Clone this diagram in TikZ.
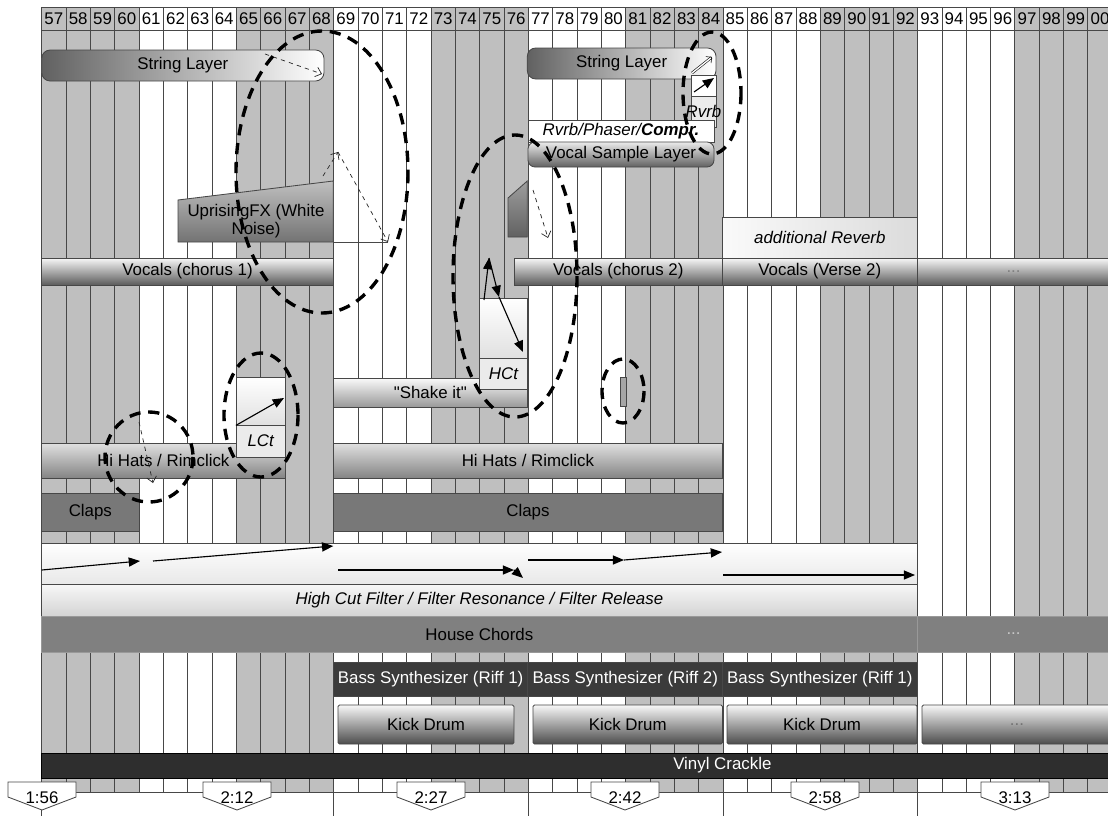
\documentclass[tikz,border=0pt]{standalone}
\usepackage{fontspec}
\setmainfont{Liberation Sans}
\usetikzlibrary{arrows.meta}
\tikzset{
  span/.style n args={4}{at={({(#1+#3)/2},{(#2+#4)/2})}, minimum width={(#3-#1)*0.025cm}, minimum height={(#4-#2)*0.025cm}},
  colline/.style={draw=black!72, line width=0.6pt},
  hdcell/.style={draw=black!72, line width=0.6pt, inner sep=0pt, font=\fontsize{12}{14}\selectfont},
  bar/.style={draw=black!72, line width=0.6pt, inner sep=0pt, font=\fontsize{12}{14}\selectfont},
  strbar/.style={bar, rounded corners=6pt, left color=black!62, right color=white},
  vocbar/.style={bar, top color=black!3, bottom color=black!64},
  vsbar/.style={bar, rounded corners=5pt, top color=black!8, bottom color=black!62},
  hatbar/.style={bar, top color=black!12, bottom color=black!48},
  shakebar/.style={bar, top color=black!2, bottom color=black!40},
  clapbar/.style={bar, fill=black!53},
  litebox/.style={bar, top color=white, bottom color=black!12},
  tagbox/.style={bar, fill=black!8, font=\fontsize{12}{14}\selectfont\itshape},
  filtbar/.style={bar, top color=black!3, bottom color=black!17, font=\fontsize{12}{14}\selectfont\itshape},
  chordbar/.style={bar, draw=black!40, fill=black!50},
  bassbar/.style={bar, fill=black!77, text=white},
  kickbar/.style={bar, rounded corners=1pt, top color=black!3, bottom color=black!70},
  crackbar/.style={bar, draw=black, fill=black!82, text=white},
  fxshape/.style={draw=black!72, line width=0.6pt},
  focus/.style={draw=black, line width=2.4pt, dash pattern=on 8pt off 5.5pt},
  hint/.style={draw=black!85, line width=0.5pt, dashed, -{Straight Barb[length=4pt,width=7pt]}},
  flow/.style={draw=black, line width=0.8pt, -{Triangle[length=8pt,width=6.5pt]}},
  tmark/.style={draw=black!72, fill=white, line width=0.6pt},
}
\begin{document}
\begin{tikzpicture}[x=0.025cm, y=-0.025cm]
  \useasboundingbox (0,0) rectangle (1108,816);
  \fill[white] (0,0) rectangle (1108,816);

  \foreach \k in {57,...,100} {
    \pgfmathsetmacro\xl{41.7+(\k-57)*24.33}
    \pgfmathsetmacro\xr{\xl+24.33}
    \pgfmathtruncatemacro\shd{mod(int((\k-57)/4),2)==0 ? 25 : 0}
    \fill[black!\shd] (\xl,30) rectangle (\xr,792);
    \draw[colline] (\xl,30) -- (\xl,792);
    \node[hdcell, fill=black!\shd, span={\xl}{7}{\xr}{30}] (h\k) {\ifnum\k=100 00\else\k\fi};
  }
  \draw[colline] (41.7,792) -- (1108,792);
  \foreach \k in {57,69,77,85,93}
    \draw[colline] ({41.7+(\k-57)*24.33},792) -- ++(0,24);

  \node[strbar, span={41.7}{50}{324}{81}] (str1) {String Layer};
  \path[fxshape, top color=black!25, bottom color=black!55] (178,200) -- (333.3,181) -- (333.3,242) -- (178,242) -- cycle;
  \node[align=center, font=\fontsize{12}{12.5}\selectfont] (upfx) at (256,221) {UprisingFX (White\\Noise)};
  \coordinate (upend) at (388,242);
  \draw[fxshape] (333.3,242) -- (upend);

  \node[vocbar, span={41.7}{258}{333.3}{285}] (voc1) {Vocals (chorus 1)};
  \node[vocbar, span={514}{258}{722.5}{285}] (voc2) {Vocals (chorus 2)};
  \node[vocbar, span={722.5}{258}{917.1}{285}] (voc3) {Vocals (Verse 2)};
  \node[vocbar, text=black!50, span={917.1}{258}{1110}{285}] (voc4) {...};
  \node[bar, left color=black!2, right color=black!14, font=\fontsize{12}{14}\selectfont\itshape, span={722.5}{217}{917.1}{258}] (addrev) {additional Reverb};

  \node[strbar, span={527.3}{48}{716}{79}] (str2) {String Layer};
  \node[bar, fill=white, span={691}{75}{716}{96}] (rvbup) {};
  \node[tagbox, span={691}{96}{716}{127}, label={[font=\fontsize{12}{14}\selectfont\itshape]center:Rvrb}] (rvb) {};
  \node[bar, fill=white, font=\fontsize{12}{14}\selectfont\itshape, span={528}{120}{714}{142}] (fxchain) {Rvrb/Phaser/\textbf{Compr.}};
  \node[vsbar, span={528}{142}{714}{167}] (vsl) {Vocal Sample Layer};

  \path[fxshape, top color=black!38, bottom color=black!62] (508,198) -- (527.3,181) -- (527.3,237) -- (508,237) -- cycle;

  \node[shakebar, span={333.3}{378}{527.3}{407}] (shake) {\textquotedbl Shake it\textquotedbl};
  \node[litebox, span={479.6}{298}{527.3}{358}] (hctup) {};
  \node[tagbox, span={479.6}{358}{527.3}{389}] (hct) {HCt};
  \node[bar, fill=black!35, span={620}{377}{626}{406}] (blip) {};

  \node[litebox, span={236.3}{377}{285}{425}] (lctup) {};
  \node[hatbar, span={41.7}{443}{285}{478}] (hat1) {Hi Hats / Rimclick};
  \node[hatbar, span={333.3}{443}{722.5}{478}] (hat2) {Hi Hats / Rimclick};
  \node[tagbox, span={236.3}{425}{285}{457}] (lct) {LCt};

  \node[clapbar, span={41.7}{493}{139}{531}] (clap1) {Claps};
  \node[clapbar, span={333.3}{493}{722.5}{531}] (clap2) {Claps};

  \node[bar, top color=white, bottom color=black!9, span={41.7}{543}{917.1}{584}] (sweep) {};
  \node[filtbar, span={41.7}{584}{917.1}{616}] (filt) {High Cut Filter / Filter Resonance / Filter Release};
  \node[chordbar, span={41.7}{616}{917.1}{652}] (chords) {House Chords};
  \node[chordbar, text=black!22, span={917.1}{616}{1110}{652}] (chords2) {...};

  \node[bassbar, span={333.3}{662}{527.9}{696}] (bass1) {Bass Synthesizer (Riff 1)};
  \node[bassbar, span={527.9}{662}{722.5}{696}] (bass2) {Bass Synthesizer (Riff 2)};
  \node[bassbar, span={722.5}{662}{917.1}{696}] (bass3) {Bass Synthesizer (Riff 1)};

  \node[kickbar, span={338}{705}{514}{744}] (kick1) {Kick Drum};
  \node[kickbar, span={533}{705}{722.5}{744}] (kick2) {Kick Drum};
  \node[kickbar, span={727}{705}{917.1}{744}] (kick3) {Kick Drum};
  \node[kickbar, text=black!55, span={922}{705}{1112}{744}] (kick4) {...};

  \node[crackbar, span={41.7}{753}{1403}{778}] (vinyl) {Vinyl Crackle};

  \coordinate (s1a) at (265,54);
  \coordinate (s1b) at (322,74);
  \draw[hint] (s1a) -- (s1b);
  \coordinate (ux1) at (323,176);
  \coordinate (ux2) at (338,152);
  \draw[hint] (ux1) -- (ux2);
  \draw[hint] (ux2) -- (upend);
  \coordinate (pa1) at (533,190);
  \coordinate (pa2) at (548,238);
  \draw[hint] (pa1) -- (pa2);
  \coordinate (hh1) at (139,422);
  \coordinate (hh2) at (153,483);
  \draw[hint] (hh1) -- (hh2);
  \coordinate (s2a) at (692,73);
  \coordinate (s2b) at (712,57);
  \draw[line width=0.4pt, double distance=1pt, -{Straight Barb[length=3pt,width=6pt]}] (s2a) -- (s2b);

  \coordinate (rv1) at (694,92);
  \coordinate (rv2) at (714,78);
  \draw[flow] (rv1) -- (rv2);
  \coordinate (lc2) at (284,398);
  \draw[flow] (lctup.south west) -- (lc2);
  \coordinate (hc1) at (484,300);
  \coordinate (hc2) at (489,258);
  \coordinate (hc3) at (499,297);
  \coordinate (hc4) at (523,352);
  \draw[flow] (hc1) -- (hc2);
  \draw[flow] (hc2) -- (hc3);
  \draw[flow] (hc3) -- (hc4);

  \coordinate (f1) at (41.7,570);
  \coordinate (f2) at (140,561);
  \coordinate (f3) at (153,561);
  \coordinate (f4) at (333.3,546);
  \coordinate (f5) at (338,570);
  \coordinate (f6) at (514,570);
  \coordinate (f7) at (523,578);
  \coordinate (f8) at (528,560);
  \coordinate (f9) at (624,560);
  \coordinate (f10) at (722,552);
  \coordinate (f11) at (723,575);
  \coordinate (f12) at (915,575);
  \draw[flow] (f1) -- (f2);
  \draw[flow] (f3) -- (f4);
  \draw[flow] (f5) -- (f6);
  \draw[flow] (f6) -- (f7);
  \draw[flow] (f8) -- (f9);
  \draw[flow] (f9) -- (f10);
  \draw[flow] (f11) -- (f12);

  \draw[focus] (322,172) ellipse [x radius=86, y radius=141];
  \draw[focus] (712,93) ellipse [x radius=29, y radius=61];
  \draw[focus] (515,276) ellipse [x radius=62, y radius=141];
  \draw[focus] (623,391) ellipse [x radius=21, y radius=32];
  \draw[focus] (261,415) ellipse [x radius=37, y radius=62];
  \draw[focus] (149,457) ellipse [x radius=44, y radius=45];

  \foreach \lab/\tx [count=\i] in {1:56/42,2:12/237,2:27/431,2:42/625,2:58/825,3:13/1015} {
    \draw[tmark] ({\tx-34},782) -- ({\tx+34},782) -- ({\tx+34},797) -- (\tx,810) -- ({\tx-34},797) -- cycle;
    \node[font=\fontsize{12}{14}\selectfont] (tm\i) at (\tx,798) {\lab};
  }
\end{tikzpicture}
\end{document}
